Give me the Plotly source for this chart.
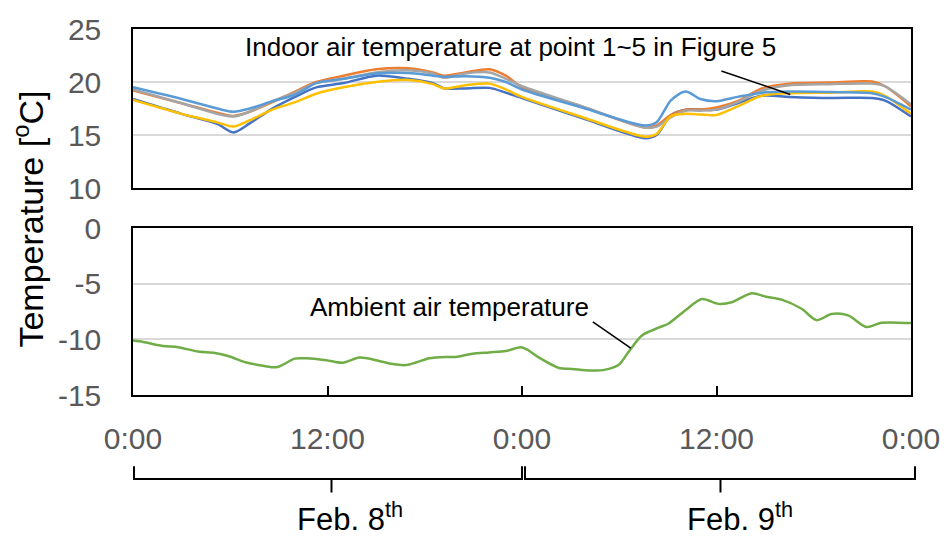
import plotly.graph_objects as go

# ---------------- data ----------------
HOURS_IN = [0, 3, 5.2, 6.2, 7.2, 8.6, 10, 11.3, 13, 15, 17, 18.5, 19.2, 20.5, 22, 23, 24,
            27.7, 31.6, 32.3, 33.2, 34.1, 35, 36, 37.3, 38.8, 40.5, 43, 45.6, 46.4, 48]

POINT1 = [18.4, 17.0, 16.05, 15.25, 16.1, 17.5, 18.6, 19.5, 19.9, 20.6, 20.3, 19.9, 19.4, 19.4, 19.45, 19.0, 18.5,
          16.6, 14.7, 15.0, 16.9, 17.4, 17.4, 17.4, 18.0, 18.7, 18.6, 18.5, 18.5, 18.25, 16.75]
POINT2 = [19.2, 18.0, 17.1, 16.8, 17.2, 18.1, 19.1, 20.0, 20.6, 21.2, 21.3, 20.9, 20.6, 20.9, 21.2, 20.6, 19.5,
          17.7, 15.7, 15.9, 16.9, 17.4, 17.4, 17.6, 18.2, 19.4, 19.85, 19.95, 20.05, 19.6, 17.7]
POINT3 = [19.3, 18.0, 17.0, 16.75, 17.2, 18.2, 19.0, 19.9, 20.3, 20.9, 21.1, 20.8, 20.4, 20.8, 20.9, 20.3, 19.6,
          17.7, 15.7, 15.8, 16.7, 17.3, 17.3, 17.4, 18.1, 19.2, 19.7, 19.8, 19.85, 19.6, 17.9]
POINT4 = [18.3, 17.0, 16.2, 15.8, 16.4, 17.4, 18.1, 18.9, 19.5, 20.0, 20.2, 19.8, 19.4, 19.7, 19.85, 19.3, 18.6,
          16.7, 14.85, 15.1, 16.8, 17.0, 16.95, 16.9, 17.7, 18.7, 18.95, 19.0, 19.1, 18.7, 17.0]
POINT5 = [19.5, 18.4, 17.5, 17.2, 17.5, 18.2, 18.8, 19.9, 20.3, 20.8, 20.85, 20.6, 20.5, 20.55, 20.4, 20.0, 19.3,
          17.6, 15.9, 16.2, 18.3, 19.1, 18.4, 18.2, 18.6, 19.0, 19.1, 19.05, 18.95, 18.6, 17.4]

HOURS_OUT = [0, 0.63, 1.87, 2.79, 4.02, 5.05, 5.87, 7.0, 8.02, 8.84, 9.25, 9.97, 10.69, 11.92, 12.94,
             13.97, 15.0, 16.02, 16.84, 17.46, 18.28, 19.3, 19.92, 20.94, 21.97, 23.0, 23.92, 24.3,
             25.05, 26.28, 27.1, 28.22, 29.15, 29.97, 30.58, 31.4, 32.43, 33.05, 34.07, 35.1, 36.12,
             36.94, 38.17, 39.0, 40.02, 41.25, 42.17, 43.1, 44.12, 45.25, 46.17, 48.0]
AMBIENT = [-10.11, -10.23, -10.6, -10.7, -11.1, -11.23, -11.5, -12.08, -12.37, -12.51, -12.28, -11.73,
           -11.7, -11.87, -12.1, -11.64, -11.87, -12.22, -12.31, -12.08, -11.7, -11.58, -11.58, -11.29,
           -11.17, -11.05, -10.7, -10.9, -11.64, -12.57, -12.66, -12.8, -12.72, -12.28, -11.11, -9.65,
           -8.95, -8.57, -7.4, -6.38, -6.81, -6.67, -5.85, -6.14, -6.43, -7.25, -8.27, -7.72, -7.84,
           -8.89, -8.51, -8.54]

X_TICKS = [0, 12, 24, 36, 48]
X_TICKTEXT = ["0:00", "12:00", "0:00", "12:00", "0:00"]
Y_TOP_TICKS = [10, 15, 20, 25]
Y_BOT_TICKS = [0, -5, -10, -15]
Y_BOT_TICKTEXT = ["0", "-5", "-10", "-15"]

SERIES = [("Point 1", POINT1, "#4472C4"), ("Point 2", POINT2, "#ED7D31"),
          ("Point 3", POINT3, "#A5A5A5"), ("Point 4", POINT4, "#FFC000"),
          ("Point 5", POINT5, "#5B9BD5")]

# ---------------- figure ----------------
fig = go.Figure()
for name, vals, col in SERIES:
    fig.add_trace(go.Scatter(x=HOURS_IN, y=vals, name=name, mode="lines",
                             line=dict(color=col, width=2.5, shape="spline", smoothing=0.8),
                             xaxis="x", yaxis="y"))
fig.add_trace(go.Scatter(x=HOURS_OUT, y=AMBIENT, name="Ambient", mode="lines",
                         line=dict(color="#70AD47", width=2.5, shape="spline", smoothing=0.8),
                         xaxis="x2", yaxis="y2"))

FONT = "Liberation Sans, Arial, sans-serif"
TICKCOL = "#595959"

common_x = dict(range=[0, 48], tickvals=X_TICKS, ticktext=X_TICKTEXT, showgrid=False,
                zeroline=False, showline=True, linecolor="black", linewidth=1.5, mirror=True)
fig.update_layout(
    width=952, height=539,
    margin=dict(l=133, r=39, t=20, b=144),
    paper_bgcolor="white", plot_bgcolor="white",
    showlegend=False,
    font=dict(family=FONT, color="black"),
    xaxis=dict(**common_x, domain=[0, 1], anchor="y", showticklabels=False, ticks=""),
    yaxis=dict(domain=[0.5653, 1], range=[10, 25], tickvals=Y_TOP_TICKS, showgrid=True,
               gridcolor="#D9D9D9", gridwidth=1.5, zeroline=False, showline=True,
               linecolor="black", linewidth=1.5, mirror=True, ticks="",
               tickfont=dict(size=30, color=TICKCOL), ticklabelstandoff=24, anchor="x"),
    xaxis2=dict(**common_x, domain=[0, 1], anchor="y2", ticks="inside", ticklen=9,
                tickwidth=1.5, tickcolor="black",
                tickfont=dict(size=30, color=TICKCOL), ticklabelstandoff=16),
    yaxis2=dict(domain=[0, 0.456], range=[-15, 0], tickvals=Y_BOT_TICKS, ticktext=Y_BOT_TICKTEXT,
                showgrid=True, gridcolor="#D9D9D9", gridwidth=1.5, zeroline=False, showline=True,
                linecolor="black", linewidth=1.5, mirror=True, ticks="",
                tickfont=dict(size=30, color=TICKCOL), ticklabelstandoff=24, anchor="x2"),
)

# annotations
fig.add_annotation(x=23.26, y=23.34, xref="x", yref="y", text="Indoor air temperature at point 1~5 in Figure 5",
                   showarrow=False, xanchor="center", yanchor="middle", font=dict(size=26, color="black"))
fig.add_shape(type="line", xref="x", yref="y", x0=36.3, y0=21.04, x1=40.55, y1=18.83,
              line=dict(color="black", width=1.5))
fig.add_annotation(x=19.5, y=-7.1, xref="x2", yref="y2", text="Ambient air temperature",
                   showarrow=False, xanchor="center", yanchor="middle", font=dict(size=26, color="black"))
fig.add_shape(type="line", xref="x2", yref="y2", x0=28.37, y0=-8.42, x1=30.71, y1=-10.79,
              line=dict(color="black", width=1.5))

# y title
fig.add_annotation(x=-0.1346, y=0.48, xref="paper", yref="paper", text="Temperature [<sup>o</sup>C]",
                   textangle=-90, showarrow=False, xanchor="center", yanchor="middle",
                   font=dict(size=34, family="Liberation Sans, Arial", color="black"))

# date brackets
def py(p):
    return (395 - p) / 375

def px(p):
    return (p - 133) / 780

for x0, xc, x1 in [(134, 332, 523), (526, 722, 917)]:
    path = (f"M {px(x0)},{py(468)} L {px(x0)},{py(481)} L {px(x1)},{py(481)} L {px(x1)},{py(468)} "
            f"M {px(xc)},{py(481)} L {px(xc)},{py(495)}")
    fig.add_shape(type="path", xref="paper", yref="paper", path=path,
                  line=dict(color="black", width=2))

fig.add_annotation(x=px(351), y=py(520), xref="paper", yref="paper", text="Feb. 8<sup>th</sup>",
                   showarrow=False, xanchor="center", yanchor="middle", font=dict(size=31, color="black"))
fig.add_annotation(x=px(742), y=py(520), xref="paper", yref="paper", text="Feb. 9<sup>th</sup>",
                   showarrow=False, xanchor="center", yanchor="middle", font=dict(size=31, color="black"))

fig.write_html("out.html", config={"displayModeBar": False})

# remove default page margin so the figure sits at the window origin
with open("out.html", "r", encoding="utf-8") as f:
    html = f.read()
html = html.replace("<head>", "<head><style>html,body{margin:0;padding:0;overflow:hidden}</style>", 1)
with open("out.html", "w", encoding="utf-8") as f:
    f.write(html)
